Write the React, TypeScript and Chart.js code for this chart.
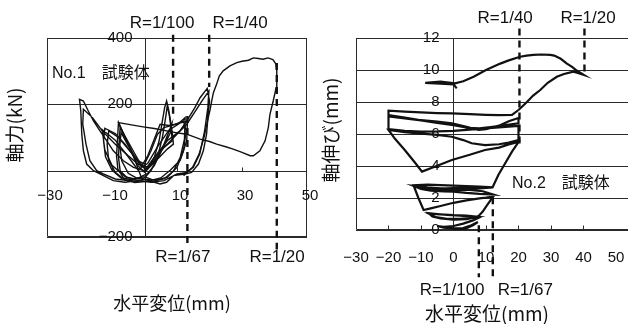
import React, { useEffect, useRef } from 'react';
import { Chart, registerables } from 'chart.js';

Chart.register(...registerables);

type P = [number, number];

// ---------- Left chart: No.1 試験体, 軸力(kN) vs 水平変位(mm) ----------
const leftXTicks = [-30, -10, 10, 30, 50];
const leftYTicks = [-200, 200, 400];

const no1Cycle100: P[] = [
  [0, 0], [1.5, 15], [3, 40], [4.5, 90], [5.5, 150], [6.2, 190], [6.8, 210], [7.4, 185], [8, 150], [8.6, 110],
  [8.9, 80], [7, 65], [4.5, 40], [2, 15], [0, -5], [-2, 15], [-4, 55], [-6, 100], [-8, 145], [-8.3, 95],
  [-8.6, 45], [-8.2, 5], [-6.5, -22], [-4, -28], [-1.5, -20], [1, -8], [3, 15], [5, 55], [6.8, 100], [8.4, 140],
  [8, 115], [6, 75], [3.5, 35], [0.5, 3], [-2.5, 35], [-5, 75], [-7.2, 115], [-7.6, 75], [-7, 30], [-5, -8],
  [-2, -25], [0, -22],
];

const no1Cycle100b: P[] = [
  [0, -22], [2, 0], [4, 40], [5.5, 100], [6.5, 160], [7, 195], [7.6, 170], [8.3, 120], [8.5, 90], [6, 70],
  [3, 30], [0.5, 0], [-1.5, 25], [-3.5, 60], [-5.5, 95], [-7.5, 130], [-7.8, 85], [-8, 40], [-7.5, 0],
  [-5.5, -20], [-3, -25], [0, -18],
];

const no1Cycle67: P[] = [
  [0, -18], [3, -30], [6, -25], [9, 0], [11, 40], [12.3, 95], [12.5, 160], [10.5, 142], [7.5, 136], [4.8, 140],
  [3, 95], [1, 45], [-1, 12], [-3, 40], [-6, 80], [-9, 112], [-12.2, 128], [-12.6, 90], [-12, 42], [-10, 2],
  [-7, -24], [-3, -36], [1, -32], [5, -22], [8, 2], [11, 32], [13, 90], [13.2, 148], [11, 144], [7.5, 122],
  [4, 72], [1, 22], [-2, 2], [-5, 42], [-9, 92], [-13, 124], [-12.2, 62], [-10, 16], [-6, -18], [-2, -30],
  [0, -26],
];

const no1Cycle67b: P[] = [
  [0, -26], [4, -28], [7, -20], [10, 10], [12, 60], [12.8, 120], [12, 150], [9, 138], [6, 130], [4, 110],
  [2, 60], [0, 20], [-2, 30], [-5, 65], [-8, 100], [-11, 120], [-11.5, 80], [-11, 30], [-9, -5], [-6, -28],
  [-2, -33], [0, -26],
];

const no1Cycle40: P[] = [
  [0, -26], [4.8, -40], [6.8, -35], [8.9, -15], [12.5, -10], [14.5, -5], [16.6, 20], [18.1, 60], [19.1, 110],
  [19.6, 170], [20, 210], [19.3, 248], [17.1, 220], [15.5, 190], [13, 150], [10.9, 120], [7, 90], [3, 40],
  [0, 0], [-3.4, 10], [-6.5, 30], [-9.6, 60], [-11.6, 90], [-13.7, 120], [-15.7, 150], [-17.3, 180],
  [-18.8, 210], [-20, 215], [-19.6, 180], [-19.3, 110], [-18.8, 60], [-17.8, 20], [-15.7, 0], [-13.7, -10],
  [-9.6, -30], [-6, -35], [-2, -30], [2, -35], [6, -30], [10, -10], [13, -5], [15, 10], [17, 50], [18.5, 120],
  [19.5, 190], [19.8, 240], [18, 215], [16, 185], [13, 140], [9, 100], [4, 50], [1, 10], [-2, 20], [-5, 45],
  [-9, 80], [-13, 120], [-16, 160], [-18.8, 185], [-19, 140], [-18, 80], [-16.8, 30], [-14.7, 0],
  [-12.7, -10], [-9, -25], [-5, -30], [-1, -20],
];

const no1Cycle20: P[] = [
  [-1, -20], [-4, 60], [-8, 145], [-4, 138], [-0.4, 132], [3, 127], [6.8, 120], [10, 114], [13, 110],
  [17.1, 95], [20, 88], [22.2, 80], [25, 72], [27.3, 65], [30, 55], [32.5, 45], [33.5, 45], [35.5, 60],
  [37.1, 90], [38.1, 130], [38.6, 170], [39.6, 210], [40.5, 250], [40.7, 300], [40.4, 322], [39.5, 335],
  [38, 340], [36.5, 336], [35, 338], [33.5, 340], [32, 333], [30, 330], [28.4, 326], [26.3, 316],
  [24.2, 301], [23, 285], [22.2, 261], [21.2, 235], [20.7, 211], [20.2, 185], [19.4, 150], [18.3, 100],
  [16.8, 50], [14.8, 10], [12, -15],
];

const no1DriftLabels = ['R=1/100', 'R=1/67', 'R=1/40', 'R=1/20'];
const no1DriftX = [8.8, 13.2, 19.9, 40.7];
const no1DriftTop = [410, 165, 410, 325];
const no1DriftBottom = [165, -222, 252, -238];
const no1DriftLabelX = [5.4, 11.8, 29.4, 40.8];
const no1DriftLabelY = [445, -262, 445, -262];

// ---------- Right chart: No.2 試験体, 軸伸び(mm) vs 水平変位(mm) ----------
const rightXTicks = [-30, -20, -10, 0, 10, 20, 30, 40, 50];
const rightYTicks = [0, 2, 4, 6, 8, 10, 12];

const no2Cycle100: P[] = [
  [0, 0], [2, 0.03], [4, 0.12], [6, 0.3], [7.5, 0.5], [5.5, 0.3], [3, 0.12], [0, 0.1], [-3, 0.15], [-5, 0.25],
  [-3, 0.2], [0, 0.25], [3, 0.4], [6, 0.6], [7.6, 0.75], [5, 0.85], [2, 0.9], [-2, 0.95], [-5, 1.0],
  [-7.6, 1.05], [-6.5, 0.85], [-4, 0.72], [0, 0.65], [4, 0.68], [7.6, 0.82], [4, 0.9], [0, 0.93],
  [-4, 0.98], [-7.6, 1.02], [-5.5, 0.8], [-2, 0.7], [2, 0.7], [6, 0.76], [7.6, 0.85],
];

const no2Cycle67: P[] = [
  [7.6, 0.85], [9, 1.15], [10.5, 1.6], [12.2, 2.08], [10, 2.02], [8, 1.98], [4, 1.85], [0, 1.7], [-4, 1.5],
  [-7, 1.35], [-9.2, 1.25], [-10.8, 2.0], [-12.3, 2.8], [-8, 2.83], [-4, 2.8], [0, 2.77], [4, 2.74], [8, 2.72],
  [12.2, 2.66], [8, 2.6], [4, 2.56], [0, 2.55], [-4, 2.6], [-8, 2.66], [-12.3, 2.75], [-10, 2.56], [-7, 2.46],
  [-3, 2.42], [0, 2.4], [4, 2.32], [8, 2.26], [12.2, 2.22], [9, 2.42], [5, 2.5], [0, 2.52], [-5, 2.56],
  [-12, 2.7], [-9, 2.6], [-4, 2.58], [0, 2.62], [6, 2.64], [12, 2.66],
];

const no2Cycle40: P[] = [
  [12, 2.66], [13.8, 3.44], [16, 4.2], [18, 4.9], [20, 5.5], [17, 5.35], [14, 5.15], [9.7, 5.0], [5, 4.7],
  [-0.5, 4.38], [-5, 4.02], [-9.7, 3.65], [-12, 4.25], [-15, 5.0], [-18, 5.7], [-20, 6.25], [-15, 6.12],
  [-10.8, 6.04], [-5, 5.95], [-0.5, 5.83], [3, 5.62], [5.6, 5.42], [9.7, 5.31], [14, 5.36], [17, 5.46],
  [20, 5.62], [20, 6.5], [14, 6.42], [9.7, 6.35], [5, 6.27], [0, 6.2], [-5, 6.16], [-10, 6.15], [-15, 6.2],
  [-20, 6.3], [-20, 7.1], [-15, 6.98], [-10, 6.85], [-5, 6.7], [0, 6.55], [4.6, 6.38], [8, 6.36], [12, 6.45],
  [16, 6.55], [20, 6.67], [20, 7.0], [17, 6.8], [14, 6.52], [10, 6.3], [7.7, 6.25], [4, 6.45], [-0.5, 6.67],
  [-5, 6.78], [-10.8, 6.88], [-15, 7.02], [-20, 7.19], [-20, 7.46], [-15, 7.4], [-10, 7.35], [-5, 7.31],
  [-0.5, 7.29], [5, 7.24], [10, 7.2], [14, 7.18], [18, 7.19], [20, 7.5],
];

const no2Cycle20: P[] = [
  [20, 7.5], [22.6, 8.0], [24.5, 8.4], [26.7, 8.75], [29, 9.2], [31.8, 9.58], [34, 9.75], [36.9, 9.9],
  [38.5, 9.8], [40, 9.7], [38, 9.95], [36.5, 10.2], [34.9, 10.4], [33, 10.7], [31, 10.9], [29.8, 10.94],
  [27, 10.97], [24.6, 10.94], [22.5, 10.9], [20.5, 10.83], [17, 10.6], [14.4, 10.4], [10, 10.0], [6.2, 9.58],
  [3, 9.3], [0.5, 9.17], [-4, 9.27], [-8.7, 9.2], [-4, 9.15], [0, 9.1], [1, 8.85],
];

const no2DriftLabels = ['R=1/100', 'R=1/67', 'R=1/40', 'R=1/20'];
const no2DriftX = [7.8, 12.1, 20.3, 40.3];
const no2DriftTop = [0.3, 2.05, 12.6, 12.6];
const no2DriftBottom = [-2.95, -3.1, 5.3, 9.7];
const no2DriftLabelX = [-0.4, 22.1, 15.9, 41.4];
const no2DriftLabelY = [-3.75, -3.75, 13.25, 13.25];

// ---------- helpers ----------
const LATIN = "'Liberation Sans', Arial, 'Noto Sans CJK JP', sans-serif";
const CJK = "'Noto Sans CJK JP', 'Liberation Sans', sans-serif";
const INK = '#111';
const TICK_SIZE = 15;
const minusFmt = (v: number) => String(v).replace('-', '\u2212');

function curve(points: P[], width: number) {
  return {
    data: points.map(([x, y]) => ({ x, y })),
    showLine: true,
    borderColor: INK,
    borderWidth: width,
    pointRadius: 0,
    fill: false,
    tension: 0,
  };
}

function drifts(xs: number[], tops: number[], bottoms: number[]) {
  return xs.map((x, i) => ({
    data: [{ x, y: tops[i] }, { x, y: bottoms[i] }],
    showLine: true,
    borderColor: INK,
    borderWidth: 2.4,
    borderDash: [7, 5],
    pointRadius: 0,
    fill: false,
    clip: false as const,
  }));
}

type Note = { text: string; x: number; y: number; align: CanvasTextAlign; size: number };
type Title = { text: string; cx: number; cy: number; rotate: boolean; size: number };
type AxisCfg = {
  xTicks: number[];
  yTicks: number[];
  xAxisAtZero: boolean;
  xLabelGap: number;
  xLabelShift: number;
  yLabelGap: number;
  innerTicks: number[];
  sides: { top: boolean; left: boolean; bottom: boolean; right: boolean };
  notes: Note[];
  titles: Title[];
};

const al = (v: number) => Math.round(v) + 0.5;

function decor(cfg: AxisCfg) {
  return {
    id: 'decor',
    beforeDatasetsDraw(chart: any) {
      const { ctx, chartArea: a, scales } = chart;
      const sx = scales.x;
      const sy = scales.y;
      ctx.save();
      ctx.strokeStyle = '#2a2a2a';
      ctx.lineWidth = 1;
      ctx.beginPath();
      cfg.yTicks.forEach((v) => {
        const py = al(sy.getPixelForValue(v));
        ctx.moveTo(a.left, py);
        ctx.lineTo(a.right, py);
      });
      const x0 = al(sx.getPixelForValue(0));
      ctx.moveTo(x0, a.top);
      ctx.lineTo(x0, a.bottom);
      const y0 = al(sy.getPixelForValue(0));
      ctx.moveTo(a.left, y0);
      ctx.lineTo(a.right, y0);
      const L = al(a.left), R = al(a.right - 1), T = al(a.top), B = al(a.bottom - 1);
      if (cfg.sides.top) { ctx.moveTo(L, T); ctx.lineTo(a.right, T); }
      if (cfg.sides.bottom) { ctx.moveTo(L, B); ctx.lineTo(a.right, B); }
      if (cfg.sides.left) { ctx.moveTo(L, T); ctx.lineTo(L, B); }
      if (cfg.sides.right) { ctx.moveTo(R, T); ctx.lineTo(R, B); }
      const base = cfg.xAxisAtZero ? y0 : B;
      cfg.innerTicks.forEach((v) => {
        const px = al(sx.getPixelForValue(v));
        ctx.moveTo(px, base);
        ctx.lineTo(px, base - 4);
      });
      ctx.stroke();

      ctx.fillStyle = INK;
      ctx.font = `${TICK_SIZE}px ${LATIN}`;
      ctx.textBaseline = 'middle';
      ctx.textAlign = 'right';
      cfg.yTicks.forEach((v) => {
        ctx.fillText(minusFmt(v), sx.getPixelForValue(0) - cfg.yLabelGap, sy.getPixelForValue(v));
      });
      ctx.textAlign = 'center';
      const ly = (cfg.xAxisAtZero ? sy.getPixelForValue(0) : a.bottom) + cfg.xLabelGap;
      cfg.xTicks.forEach((v) => {
        ctx.fillText(minusFmt(v), sx.getPixelForValue(v) + cfg.xLabelShift, ly);
      });
      ctx.restore();
    },
    afterDraw(chart: any) {
      const { ctx, scales } = chart;
      ctx.save();
      ctx.fillStyle = INK;
      ctx.textBaseline = 'middle';
      cfg.notes.forEach((n) => {
        ctx.font = `${n.size}px ${LATIN}`;
        ctx.textAlign = n.align;
        ctx.fillText(n.text, scales.x.getPixelForValue(n.x), scales.y.getPixelForValue(n.y));
      });
      cfg.titles.forEach((t) => {
        ctx.save();
        ctx.font = `${t.size}px ${CJK}`;
        ctx.textAlign = 'center';
        ctx.translate(t.cx, t.cy);
        if (t.rotate) ctx.rotate(-Math.PI / 2);
        ctx.fillText(t.text, 0, 0);
        ctx.restore();
      });
      ctx.restore();
    },
  };
}

function baseOptions(padding: any, xMin: number, xMax: number, yMin: number, yMax: number) {
  return {
    animation: false,
    responsive: false,
    events: [],
    layout: { padding },
    plugins: { legend: { display: false }, tooltip: { enabled: false } },
    scales: {
      x: { type: 'linear', min: xMin, max: xMax, display: false },
      y: { type: 'linear', min: yMin, max: yMax, display: false },
    },
  };
}

function leftConfig(): any {
  const notes: Note[] = no1DriftLabels.map((t, i) => ({
    text: t, x: no1DriftLabelX[i], y: no1DriftLabelY[i], align: 'center' as CanvasTextAlign, size: 17,
  }));
  notes.push({ text: 'No.1\u3000試験体', x: -28.5, y: 292, align: 'left', size: 16 });
  return {
    type: 'scatter',
    data: {
      datasets: [
        curve(no1Cycle100, 1.4),
        curve(no1Cycle100b, 1.4),
        curve(no1Cycle67, 1.4),
        curve(no1Cycle67b, 1.4),
        curve(no1Cycle40, 1.4),
        curve(no1Cycle20, 1.4),
        ...drifts(no1DriftX, no1DriftTop, no1DriftBottom),
      ],
    },
    options: baseOptions({ left: 47, right: 11, top: 38, bottom: 87 }, -30, 50, -200, 400),
    plugins: [decor({
      xTicks: leftXTicks,
      yTicks: leftYTicks,
      xAxisAtZero: true,
      xLabelGap: 25,
      xLabelShift: 3,
      yLabelGap: 12,
      innerTicks: [-10, 10, 30],
      sides: { top: true, left: true, bottom: true, right: true },
      notes,
      titles: [
        { text: '軸力(kN)', cx: 15, cy: 125, rotate: true, size: 19 },
        { text: '水平変位(mm)', cx: 172, cy: 303, rotate: false, size: 18 },
      ],
    })],
  };
}

function rightConfig(): any {
  const notes: Note[] = no2DriftLabels.map((t, i) => ({
    text: t, x: no2DriftLabelX[i], y: no2DriftLabelY[i], align: 'center' as CanvasTextAlign, size: 17,
  }));
  notes.push({ text: 'No.2\u3000試験体', x: 18, y: 2.9, align: 'left', size: 16 });
  return {
    type: 'scatter',
    data: {
      datasets: [
        curve(no2Cycle100, 2.2),
        curve(no2Cycle67, 2.2),
        curve(no2Cycle40, 2.2),
        curve(no2Cycle20, 2.2),
        ...drifts(no2DriftX, no2DriftTop, no2DriftBottom),
      ],
    },
    options: baseOptions({ left: 38, right: 0, top: 38, bottom: 94 }, -30, 53.7, 0, 12),
    plugins: [decor({
      xTicks: rightXTicks,
      yTicks: rightYTicks,
      xAxisAtZero: false,
      xLabelGap: 28,
      xLabelShift: 0,
      yLabelGap: 14,
      innerTicks: [-20, -10, 10, 20, 30, 40],
      sides: { top: true, left: true, bottom: true, right: false },
      notes,
      titles: [
        { text: '軸伸び(mm)', cx: 13, cy: 130, rotate: true, size: 19 },
        { text: '水平変位(mm)', cx: 169, cy: 314, rotate: false, size: 19 },
      ],
    })],
  };
}

function ChartCanvas({ make, left, width, height }: { make: () => any; left: number; width: number; height: number }) {
  const ref = useRef<HTMLCanvasElement>(null);
  useEffect(() => {
    const chart = new Chart(ref.current as HTMLCanvasElement, make());
    return () => chart.destroy();
  }, [make]);
  return (
    <canvas
      ref={ref}
      width={width}
      height={height}
      style={{ position: 'absolute', left, top: 0, width, height }}
    />
  );
}

export default function App() {
  return (
    <div style={{ position: 'fixed', left: 0, top: 0, width: 628, height: 324, background: '#fff', overflow: 'hidden' }}>
      <ChartCanvas make={leftConfig} left={0} width={318} height={324} />
      <ChartCanvas make={rightConfig} left={318} width={310} height={324} />
    </div>
  );
}
